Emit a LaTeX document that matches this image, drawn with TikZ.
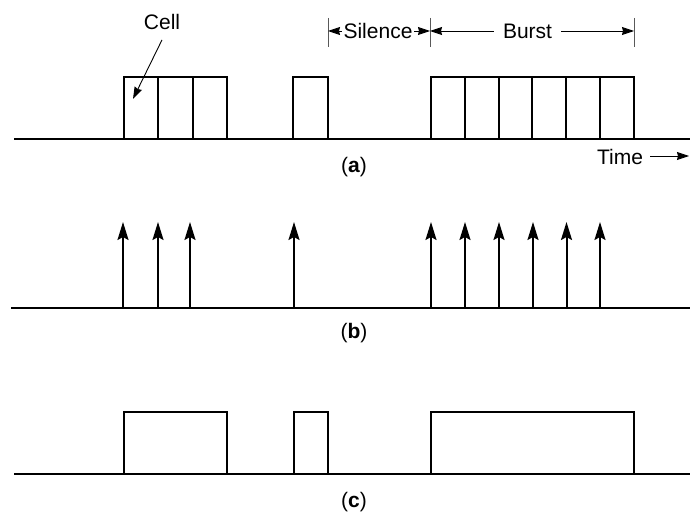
\documentclass[tikz,border=0pt]{standalone}
\usepackage{fontspec}
\setmainfont{Liberation Sans}
\usetikzlibrary{arrows.meta}
\begin{document}
\begin{tikzpicture}[x=1pt,y=-1pt,
  cellline/.style={line width=2pt},
  axis/.style={line width=2.2pt},
  tick/.style={line width=0.9pt, black!65},
  lbl/.style={font=\fontsize{21}{25}\selectfont, inner sep=0pt},
  dimarrow/.style={line width=0.9pt,-{Stealth[length=12pt,width=8pt,inset=1pt]}},
  impulse/.style={line width=2pt,-{Stealth[length=18pt,width=11pt,inset=3pt]}},
]
\useasboundingbox (0,0) rectangle (690,513);

% ---------- (a) ----------
\coordinate (a0) at (14,139);
\coordinate (a1) at (690,139);
\draw[axis] (a0) -- (a1);
\foreach \x in {124,158.3,192.6} \draw[cellline] (\x,139) rectangle ++(34.4,-62);
\draw[cellline] (293,139) rectangle (328,77);
\foreach \i in {0,...,5} \draw[cellline] ({431+\i*33.83},139) rectangle ++(33.83,-62);

\node[lbl] (cell) at (162,22) {Cell};
\coordinate (cellpt) at (133,99);
\draw[dimarrow] ([yshift=-10pt]cell.south) -- (cellpt);

% dimension ticks
\coordinate (t1top) at (328,18); \coordinate (t1bot) at (328,47);
\coordinate (t2top) at (430,18); \coordinate (t2bot) at (430,47);
\coordinate (t3top) at (634,18); \coordinate (t3bot) at (634,47);
\draw[tick] (t1top) -- (t1bot);
\draw[tick] (t2top) -- (t2bot);
\draw[tick] (t3top) -- (t3bot);
\coordinate (t1) at (328,31);
\coordinate (t2) at (430,31);
\coordinate (t3) at (634,31);
\node[lbl, inner xsep=1.5pt] (sil) at (378,31) {Silence};
\draw[dimarrow] (sil.west) -- (t1);
\draw[dimarrow] (sil.east) -- (t2);
\node[lbl, inner xsep=9pt] (burst) at (527.5,31) {Burst};
\draw[dimarrow] (burst.west) -- (t2);
\draw[dimarrow] (burst.east) -- (t3);

\node[lbl, inner xsep=7pt] (time) at (620,157) {Time};
\coordinate (timeend) at (689,156);
\draw[dimarrow] (time.east |- timeend) -- (timeend);

\node[lbl] (la) at (354,167) {(\textbf{a})};

% ---------- (b) ----------
\coordinate (b0) at (11,308);
\coordinate (b1) at (690,308);
\draw[axis] (b0) -- (b1);
\foreach \x in {123,158,190,294,431,465,499,533,566.5,600}
  \draw[impulse] (\x,308) -- (\x,222);
\node[lbl] (lb) at (354,333) {(\textbf{b})};

% ---------- (c) ----------
\coordinate (c0) at (14,474);
\coordinate (c1) at (690,474);
\draw[axis] (c0) -- (c1);
\draw[cellline] (124,474) rectangle (226.5,412);
\draw[cellline] (294,474) rectangle (328,412);
\draw[cellline] (431,474) rectangle (634,412);
\node[lbl] (lc) at (354,502) {(\textbf{c})};
\end{tikzpicture}
\end{document}
